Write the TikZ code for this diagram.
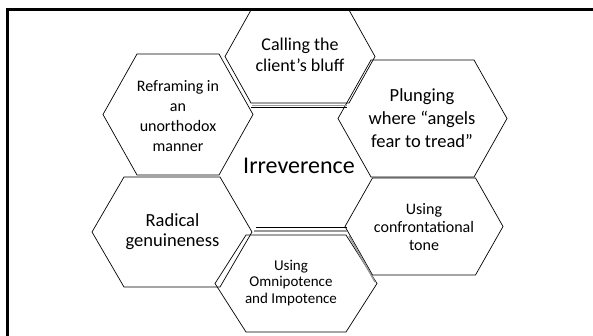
\documentclass[tikz,border=0pt]{standalone}
\usepackage{fontspec}
\setmainfont{Carlito}
\tikzset{hexa/.style={draw,line width=0.7pt,line join=miter},
	gap/.style={draw=black!40,line width=1.4pt},
	hexlabel/.style={align=center,inner sep=0pt},
	frame/.style={draw,line width=2.6pt}}
% hexagon: centre x, centre y, half width, corner x, half height
\newcommand\hexagon[5]{%
	\draw[hexa] (#1-#3,#2) -- (#1-#4,#2-#5) -- (#1+#4,#2-#5) -- (#1+#3,#2)
	-- (#1+#4,#2+#5) -- (#1-#4,#2+#5) -- cycle;}

\begin{document}
\begin{tikzpicture}
	[x=1pt,y=-1pt]
	\useasboundingbox (0,0) rectangle (593,336);
	\clip (0,0) rectangle (593,336);
	\draw[frame] (7.5,345) |- (600,9.5);
	% outer ring
	\hexagon{300}{56.5}{75}{49}{46.5}
	\hexagon{178}{114.5}{75}{41}{60.5}
	\hexagon{422.5}{118.5}{84.5}{51.5}{58.5}
	\hexagon{424}{226.5}{79}{51.5}{48.5}
	\hexagon{172}{232}{80}{48}{55}
	\hexagon{296}{283.5}{81}{50}{48.5}
	% centre
	\draw[gap] (252,105.3) -- (347,105.3);
	\draw[gap] (254,231) -- (347,231);
	\draw[gap] (349,236) -- (375,282);
	\draw[hexa] (251,107) -- (347,107);
	\draw[hexa] (256,227) -- (347,227);
	\node[hexlabel,font=\fontsize{24}{28}\selectfont] (irr) at (299,166) {Irreverence};
	\node[hexlabel,font=\fontsize{18}{21.5}\selectfont] (bluff) at (300,55) {Calling the\\client’s bluff};
	\node[hexlabel,font=\fontsize{16}{20}\selectfont] (refr) at (178,116) {Reframing in\\an\\unorthodox\\manner};
	\node[hexlabel,font=\fontsize{18.5}{23}\selectfont] (plung) at (422,118.5) {Plunging\\where “angels\\fear to tread”};
	\node[hexlabel,font=\fontsize{16}{18}\selectfont] (tone) at (424,227) {Using\\confrontational\\tone};
	\node[hexlabel,font=\fontsize{18.5}{20}\selectfont] (genu) at (172.5,232) {Radical\\genuineness};
	\node[hexlabel,font=\fontsize{15}{16.7}\selectfont] (omni) at (291,283) {Using\\Omnipotence\\and Impotence};
\end{tikzpicture}
\end{document}
